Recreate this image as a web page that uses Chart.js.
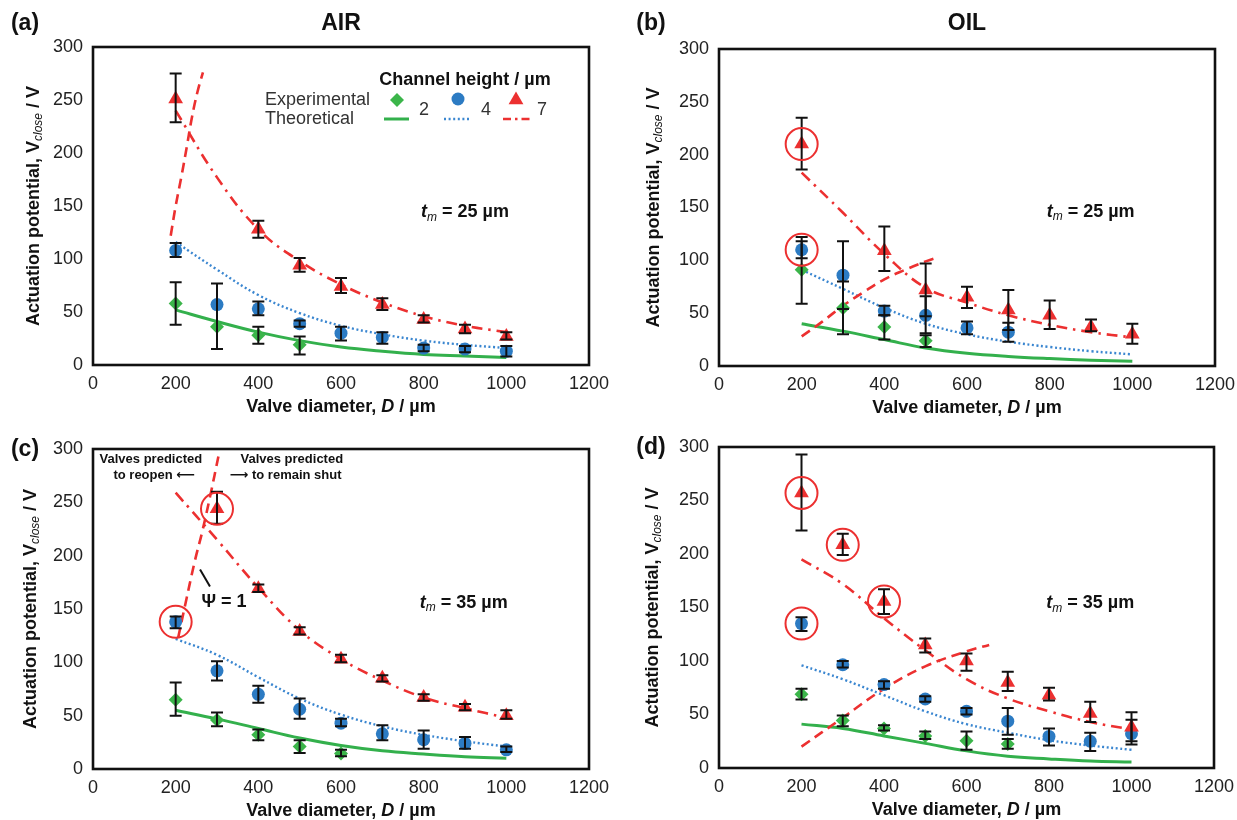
<!DOCTYPE html>
<html><head><meta charset="utf-8">
<script src="https://cdn.jsdelivr.net/npm/chart.js@4.4.0/dist/chart.umd.min.js"></script>
<style>
html,body{margin:0;padding:0;background:#fff;}
#wrap{position:relative;width:1237px;height:820px;overflow:hidden;background:#fff;}
canvas{position:absolute;}
</style></head><body><div id="wrap">
<canvas id="ca" width="618" height="420" style="left:0;top:0"></canvas>
<canvas id="cb" width="619" height="420" style="left:618px;top:0"></canvas>
<canvas id="cc" width="618" height="415" style="left:0;top:405px"></canvas>
<canvas id="cd" width="619" height="415" style="left:618px;top:405px"></canvas>
</div>
<script>
// ---------- DATA ----------
const DIAM = [200,300,400,500,600,700,800,900,1000];
const X_TICKS = [0,200,400,600,800,1000,1200];
const Y_TICKS = [0,50,100,150,200,250,300];
const HEIGHT_LABELS = ['2','4','7'];

// (a) AIR, t_m = 25 µm
const A_h2_x = [200,300,400,500];
const A_h2_v = [58,36,28,19];
const A_h2_lo = [38,15,20,10];
const A_h2_hi = [78,77,36,27];
const A_h4_x = DIAM;
const A_h4_v = [108,57,53,39,30,26,16,15,13];
const A_h4_lo = [102,57,47,36,23,20,13,12,8];
const A_h4_hi = [115,57,60,42,36,31,19,18,18];
const A_h7_x = [200,400,500,600,700,800,900,1000];
const A_h7_v = [251,128,94,74,57,43,34,27];
const A_h7_lo = [229,120,88,68,52,40,30,24];
const A_h7_hi = [275,136,101,82,63,47,38,31];
const A_t2 = [52,41,31,23,17,13,10,8.5,7];
const A_t4 = [116,90,66,49,37,29,23,19,16];
const A_t7 = [240,177,128,98,76,59,46,37,31];
const A_psi_x = [188,200,215,227,240,253,266];
const A_psi_v = [122,150,180,206,235,258,276];

// (b) OIL, t_m = 25 µm
const B_h2_x = [200,300,400,500];
const B_h2_v = [91,55,37,24];
const B_h2_lo = [59,30,25,18];
const B_h2_hi = [122,80,48,29];
const B_h4_x = [200,300,400,500,600,700];
const B_h4_v = [110,86,52,48,36,32];
const B_h4_lo = [102,54,48,31,30,23];
const B_h4_hi = [118,118,57,66,42,41];
const B_h7_x = [200,400,500,600,700,800,900,1000];
const B_h7_v = [210,109,72,65,53,48,37,30];
const B_h7_lo = [186,90,47,55,34,35,33,21];
const B_h7_hi = [235,132,97,75,72,62,44,40];
const B_t2 = [40,33,25,17,12,9,7,5.5,4.5];
const B_t4 = [91,73,55,40,30,23,18,14,11];
const B_t7 = [183,145,106,74,60,48,39,32,27];
const B_psi_x = [200,250,300,350,400,450,500,530];
const B_psi_v = [28,42,57,70,82,91,99,103];
const B_ring_h4 = [0];
const B_ring_h7 = [0];

// (c) AIR, t_m = 35 µm
const C_h2_x = [200,300,400,500,600];
const C_h2_v = [65,46,32,21,14.5];
const C_h2_lo = [50,40,27,15,12];
const C_h2_hi = [81,53,37,27,18];
const C_h4_x = DIAM;
const C_h4_v = [138,92,70,56,43,33,27.5,24,18];
const C_h4_lo = [132,83,62,47,40,27,19,19,16];
const C_h4_hi = [143,101,78,66,47,41,36,30,21];
const C_h7_x = [300,400,500,600,700,800,900,1000];
const C_h7_v = [244,169,129,103,85,67,58,50];
const C_h7_lo = [230,166,126,100,82,64,55,47];
const C_h7_hi = [260,173,133,107,88,70,61,55];
const C_t2 = [55,47,38,29,22,17,14,11.5,10];
const C_t4 = [122,107,86,66,51,40,32,26,21];
const C_t7 = [259,215,170,130,103,83,67,57,48];
const C_psi_x = [206,222,247,264,283,305];
const C_psi_v = [123,152,196,222,255,296];
const C_ring_h4 = [0];
const C_ring_h7 = [0];

// (d) OIL, t_m = 35 µm
const D_h2_x = [200,300,400,500,600,700];
const D_h2_v = [69,44.5,37,30,25.5,22.5];
const D_h2_lo = [64,39,35,27,17,18];
const D_h2_hi = [74,49,40,34,34,27];
const D_h4_x = DIAM;
const D_h4_v = [135,96.5,78,64.5,53,43.8,29.5,25,32];
const D_h4_lo = [128,94,74,62,50,31,21,16,22];
const D_h4_hi = [141,100,81,67,56,56,37,33,45];
const D_h7_x = DIAM;
const D_h7_v = [257,208.6,155.5,115,100,80,68,51,38];
const D_h7_lo = [222,199,144,108,91,72,63,43,25];
const D_h7_hi = [293,219,167,121,107,90,75,62,52];
const D_t2 = [41,37,30,23,16,11,8.5,6.5,5.5];
const D_t4 = [96,83,68,53,41,33,26,21,17];
const D_t7 = [195,172,140,110,83,65,53,43,36];
const D_psi_x = [200,300,400,500,600,655];
const D_psi_v = [20,47,74,95,109,115];
const D_ring_h4 = [0];
const D_ring_h7 = [0,1,2];

// ---------- STYLE ----------
const FONT = '"Liberation Sans", Arial, "DejaVu Sans", sans-serif';
const GREEN = '#3bb54a', GREEN_L = '#33b04c';
const BLUE = '#2c7bc3', BLUE_L = '#3a86d0';
const RED = '#ec3030';

function pts(xs, ys){ return xs.map((x,i)=>({x:x, y:ys[i]})); }

function makeDatasets(P){
  return [
    {data: pts(P.h7[0],P.h7[1]), errLo:P.h7[2], errHi:P.h7[3], rings:P.r7||[], showLine:false,
     pointStyle:'triangle', pointRadius:8.5, backgroundColor:RED, borderColor:RED, borderWidth:0},
    {data: pts(P.h4[0],P.h4[1]), errLo:P.h4[2], errHi:P.h4[3], rings:P.r4||[], showLine:false,
     pointStyle:'circle', pointRadius:6.5, backgroundColor:BLUE, borderColor:BLUE, borderWidth:0},
    {data: pts(P.h2[0],P.h2[1]), errLo:P.h2[2], errHi:P.h2[3], showLine:false,
     pointStyle:'rectRot', pointRadius:7, backgroundColor:GREEN, borderColor:GREEN, borderWidth:0},
    {data: pts(DIAM,P.t7), showLine:true, pointRadius:0, borderColor:RED, borderWidth:2.6, borderDash:[11,6,2.5,6], tension:0.4, fill:false},
    {data: pts(P.psi[0],P.psi[1]), showLine:true, pointRadius:0, borderColor:RED, borderWidth:2.6, borderDash:[10,6], tension:0.4, fill:false},
    {data: pts(DIAM,P.t4), showLine:true, pointRadius:0, borderColor:BLUE_L, borderWidth:2.4, borderDash:[2,2.6], tension:0.4, fill:false},
    {data: pts(DIAM,P.t2), showLine:true, pointRadius:0, borderColor:GREEN_L, borderWidth:3, tension:0.4, fill:false}
  ];
}

function rich(ctx, segs, x, y, align){
  let w = 0;
  segs.forEach(s=>{ ctx.font = s.f; w += ctx.measureText(s.t).width; });
  let cx = align==='left' ? x : (align==='right' ? x - w : x - w/2);
  ctx.textAlign = 'left'; ctx.textBaseline = 'middle';
  segs.forEach(s=>{ ctx.font = s.f; ctx.fillStyle = s.c || '#111'; ctx.fillText(s.t, cx, y + (s.dy||0)); cx += ctx.measureText(s.t).width; });
}

function tmLabel(val){
  return [{t:'t', f:'italic bold 18px '+FONT},{t:'m', f:'italic 12px '+FONT, dy:5},{t:' = '+val+' µm', f:'bold 18px '+FONT}];
}

function makePlugin(P){
  return {
    id:'decor',
    afterDatasetsDraw(chart){
      const ctx = chart.ctx, xs = chart.scales.x, ys = chart.scales.y, ca = chart.chartArea;
      ctx.save();
      // error bars
      ctx.strokeStyle = '#111'; ctx.lineWidth = 2;
      chart.data.datasets.forEach(ds=>{
        if(!ds.errLo) return;
        ds.data.forEach((p,i)=>{
          const lo = ds.errLo[i], hi = ds.errHi[i];
          if(lo===hi) return;
          const px = xs.getPixelForValue(p.x), y1 = ys.getPixelForValue(lo), y2 = ys.getPixelForValue(hi);
          ctx.beginPath();
          ctx.moveTo(px,y1); ctx.lineTo(px,y2);
          ctx.moveTo(px-6,y1); ctx.lineTo(px+6,y1);
          ctx.moveTo(px-6,y2); ctx.lineTo(px+6,y2);
          ctx.stroke();
        });
      });
      // rings
      ctx.strokeStyle = RED; ctx.lineWidth = 2;
      chart.data.datasets.forEach(ds=>{
        (ds.rings||[]).forEach(i=>{
          const p = ds.data[i];
          ctx.beginPath();
          ctx.arc(xs.getPixelForValue(p.x), ys.getPixelForValue(p.y), 16, 0, Math.PI*2);
          ctx.stroke();
        });
      });
      // frame
      ctx.strokeStyle = '#111'; ctx.lineWidth = 2.6;
      ctx.strokeRect(ca.left, ca.top, ca.right-ca.left, ca.bottom-ca.top);
      // panel letter + title
      ctx.fillStyle = '#111'; ctx.textAlign='center'; ctx.textBaseline='middle';
      ctx.font = 'bold 23px '+FONT;
      ctx.fillText(P.letter, P.letterX, P.letterY);
      if(P.title){ ctx.fillText(P.title, (ca.left+ca.right)/2, P.letterY); }
      // x title
      rich(ctx, [{t:'Valve diameter, ', f:'bold 18px '+FONT},{t:'D', f:'italic bold 18px '+FONT},{t:' / µm', f:'bold 18px '+FONT}],
           (ca.left+ca.right)/2, ca.bottom+42, 'center');
      // y title (rotated)
      ctx.save();
      ctx.translate(P.yTitleX, (ca.top+ca.bottom)/2);
      ctx.rotate(-Math.PI/2);
      rich(ctx, [{t:'Actuation potential, V', f:'bold 18px '+FONT},{t:'close', f:'italic 12px '+FONT, dy:5},{t:' / V', f:'bold 18px '+FONT}], 0, 0, 'center');
      ctx.restore();
      // t_m label
      rich(ctx, tmLabel(P.tm), xs.getPixelForValue(P.tmPos[0]), ys.getPixelForValue(P.tmPos[1]), 'center');
      if(P.extra) P.extra(chart, ctx, xs, ys);
      ctx.restore();
    }
  };
}

function legendA(chart, ctx, xs, ys){
  ctx.fillStyle='#111';
  rich(ctx, [{t:'Channel height / µm', f:'bold 18px '+FONT}], 465, 80, 'center');
  rich(ctx, [{t:'Experimental', f:'18px '+FONT, c:'#333'}], 265, 100, 'left');
  rich(ctx, [{t:'Theoretical', f:'18px '+FONT, c:'#333'}], 265, 119, 'left');
  // markers
  ctx.fillStyle = GREEN; ctx.beginPath(); ctx.moveTo(397,93); ctx.lineTo(404,100); ctx.lineTo(397,107); ctx.lineTo(390,100); ctx.closePath(); ctx.fill();
  ctx.fillStyle = BLUE; ctx.beginPath(); ctx.arc(458,99,6.5,0,Math.PI*2); ctx.fill();
  ctx.fillStyle = RED; ctx.beginPath(); ctx.moveTo(516,91.5); ctx.lineTo(523.4,104.2); ctx.lineTo(508.6,104.2); ctx.closePath(); ctx.fill();
  // lines
  ctx.lineWidth = 3; ctx.strokeStyle = GREEN_L; ctx.setLineDash([]);
  ctx.beginPath(); ctx.moveTo(384,119); ctx.lineTo(409,119); ctx.stroke();
  ctx.lineWidth = 2.4; ctx.strokeStyle = BLUE_L; ctx.setLineDash([2,2.6]);
  ctx.beginPath(); ctx.moveTo(444,119); ctx.lineTo(471,119); ctx.stroke();
  ctx.lineWidth = 2.6; ctx.strokeStyle = RED; ctx.setLineDash([8,4,2.5,4]);
  ctx.beginPath(); ctx.moveTo(503,119); ctx.lineTo(531,119); ctx.stroke();
  ctx.setLineDash([]);
  rich(ctx, [{t:HEIGHT_LABELS[0], f:'18px '+FONT, c:'#333'}], 424, 110, 'center');
  rich(ctx, [{t:HEIGHT_LABELS[1], f:'18px '+FONT, c:'#333'}], 486, 110, 'center');
  rich(ctx, [{t:HEIGHT_LABELS[2], f:'18px '+FONT, c:'#333'}], 542, 110, 'center');
}

function annotC(chart, ctx, xs, ys){
  const f = 'bold 13px '+FONT;
  rich(ctx, [{t:'Valves predicted', f:f}], xs.getPixelForValue(140), ys.getPixelForValue(290), 'center');
  rich(ctx, [{t:'to reopen ⟵', f:f}], xs.getPixelForValue(148), ys.getPixelForValue(275), 'center');
  rich(ctx, [{t:'Valves predicted', f:f}], xs.getPixelForValue(481), ys.getPixelForValue(290), 'center');
  rich(ctx, [{t:'⟶ to remain shut', f:f}], xs.getPixelForValue(466), ys.getPixelForValue(275), 'center');
  ctx.strokeStyle = '#111'; ctx.lineWidth = 2;
  ctx.beginPath(); ctx.moveTo(xs.getPixelForValue(259), ys.getPixelForValue(187));
  ctx.lineTo(xs.getPixelForValue(283), ys.getPixelForValue(171)); ctx.stroke();
  rich(ctx, [{t:'Ψ = 1', f:'bold 18px '+FONT}], xs.getPixelForValue(317), ys.getPixelForValue(157), 'center');
}

function build(id, P){
  const ctx = document.getElementById(id);
  new Chart(ctx, {
    type:'scatter',
    data:{datasets: makeDatasets(P)},
    options:{
      responsive:false, animation:false, devicePixelRatio:1,
      layout:{padding:{top:P.pad[0], right:P.pad[1], left:0, bottom:0}},
      plugins:{legend:{display:false}, tooltip:{enabled:false}},
      scales:{
        x:{type:'linear', min:0, max:1200,
           afterBuildTicks(s){ s.ticks = X_TICKS.map(v=>({value:v})); },
           ticks:{color:'#222', font:{family:FONT, size:18}, padding:8, maxRotation:0, autoSkip:false,
                  callback:(v)=>String(v)},
           grid:{display:false, drawTicks:false}, border:{display:false},
           afterFit(s){ s.height = P.xh; s.paddingLeft = 0; s.paddingRight = 0; }},
        y:{type:'linear', min:0, max:300,
           afterBuildTicks(s){ s.ticks = Y_TICKS.map(v=>({value:v})); },
           ticks:{color:'#222', font:{family:FONT, size:18}, padding:10, callback:(v)=>String(v)},
           grid:{display:false, drawTicks:false}, border:{display:false},
           afterFit(s){ s.width = P.yw; s.paddingTop = 0; s.paddingBottom = 0; }}
      }
    },
    plugins:[makePlugin(P)]
  });
}

build('ca', {h2:[A_h2_x,A_h2_v,A_h2_lo,A_h2_hi], h4:[A_h4_x,A_h4_v,A_h4_lo,A_h4_hi], h7:[A_h7_x,A_h7_v,A_h7_lo,A_h7_hi],
  t2:A_t2, t4:A_t4, t7:A_t7, psi:[A_psi_x,A_psi_v],
  pad:[47,29], yw:93, xh:55, letter:'(a)', letterX:25, letterY:24, title:'AIR', yTitleX:34,
  tm:'25', tmPos:[900,144], extra:legendA});
build('cb', {h2:[B_h2_x,B_h2_v,B_h2_lo,B_h2_hi], h4:[B_h4_x,B_h4_v,B_h4_lo,B_h4_hi], h7:[B_h7_x,B_h7_v,B_h7_lo,B_h7_hi],
  r4:B_ring_h4, r7:B_ring_h7, t2:B_t2, t4:B_t4, t7:B_t7, psi:[B_psi_x,B_psi_v],
  pad:[49,22], yw:101, xh:54, letter:'(b)', letterX:33, letterY:24, title:'OIL', yTitleX:36,
  tm:'25', tmPos:[899,146]});
build('cc', {h2:[C_h2_x,C_h2_v,C_h2_lo,C_h2_hi], h4:[C_h4_x,C_h4_v,C_h4_lo,C_h4_hi], h7:[C_h7_x,C_h7_v,C_h7_lo,C_h7_hi],
  r4:C_ring_h4, r7:C_ring_h7, t2:C_t2, t4:C_t4, t7:C_t7, psi:[C_psi_x,C_psi_v],
  pad:[44,29], yw:93, xh:51, letter:'(c)', letterX:25, letterY:45, title:null, yTitleX:31,
  tm:'35', tmPos:[897,156], extra:annotC});
build('cd', {h2:[D_h2_x,D_h2_v,D_h2_lo,D_h2_hi], h4:[D_h4_x,D_h4_v,D_h4_lo,D_h4_hi], h7:[D_h7_x,D_h7_v,D_h7_lo,D_h7_hi],
  r4:D_ring_h4, r7:D_ring_h7, t2:D_t2, t4:D_t4, t7:D_t7, psi:[D_psi_x,D_psi_v],
  pad:[42,23], yw:101, xh:52, letter:'(d)', letterX:33, letterY:43, title:null, yTitleX:35,
  tm:'35', tmPos:[900,154]});
</script></body></html>
